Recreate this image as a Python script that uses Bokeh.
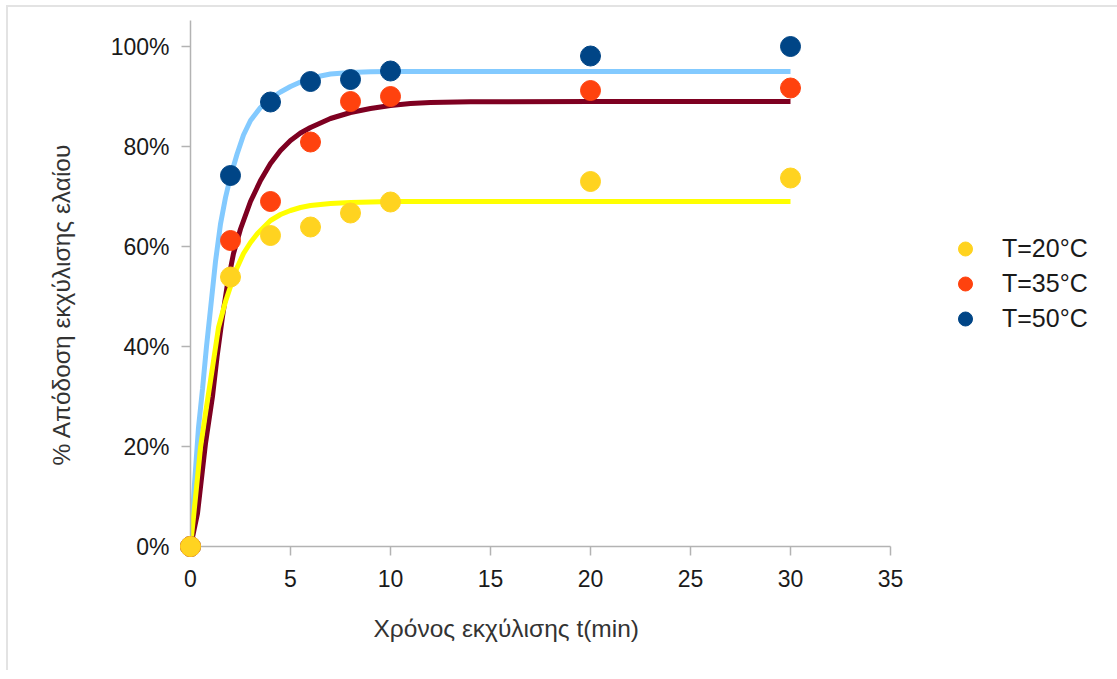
from bokeh.plotting import figure
from bokeh.models import Range1d, FixedTicker, PrintfTickFormatter, Legend, LegendItem, Title
from bokeh.embed import file_html
from bokeh.resources import INLINE

# ---------------- data ----------------
t_points = [0, 2, 4, 6, 8, 10, 20, 30]
y_20 = [0, 53.9, 62.2, 63.9, 66.7, 68.9, 73.0, 73.7]
y_35 = [0, 61.2, 69.0, 80.9, 89.0, 90.0, 91.2, 91.7]
y_50 = [0, 74.2, 88.9, 93.0, 93.4, 95.1, 98.1, 100.0]

# fitted curves
fit_t_20 = [0, 0.25, 0.5, 0.75, 1.1, 1.4, 1.75, 2, 2.3, 2.65, 3, 3.35, 3.7, 4, 4.5, 5, 5.5, 6, 7, 8, 10, 20, 30]
fit_20 = [0, 9.8, 19.8, 26.6, 35.8, 43.8, 49.0, 52.0, 55.5, 58.6, 60.8, 62.6, 64.0, 65.2, 66.4, 67.2, 67.8, 68.2, 68.6, 68.8, 69.0, 69.0, 69.0]

fit_t_35 = [0, 0.35, 0.75, 1.1, 1.33, 1.6, 1.85, 2.15, 2.5, 3, 3.5, 4, 4.5, 5, 5.5, 6, 7, 8, 9, 10, 11, 12, 14, 20, 30]
fit_35 = [0, 6.6, 20.6, 30.0, 38.0, 46.0, 52.5, 58.6, 63.5, 69.0, 73.2, 76.6, 79.2, 81.2, 82.7, 83.8, 85.6, 86.8, 87.6, 88.2, 88.6, 88.8, 88.95, 89.0, 89.0]

fit_t_50 = [0, 0.2, 0.4, 0.6, 0.8, 1, 1.25, 1.5, 1.75, 2, 2.33, 2.65, 3, 3.5, 4, 4.5, 5, 5.5, 6, 6.5, 7, 8, 9, 10, 20, 30]
fit_50 = [0, 12.5, 23.8, 31.5, 40.0, 47.5, 57.0, 64.5, 69.8, 74.0, 78.5, 82.3, 85.2, 87.8, 89.6, 90.9, 92.0, 92.9, 93.6, 94.1, 94.5, 94.8, 94.95, 95.0, 95.0, 95.0]

labels = ["T=20°C", "T=35°C", "T=50°C"]
x_ticks = [0, 5, 10, 15, 20, 25, 30, 35]
y_ticks = [0, 20, 40, 60, 80, 100]
x_title = "Χρόνος εκχύλισης t(min)"
y_title = "% Απόδοση εκχύλισης ελαίου"

marker_colors = ["#FFD320", "#FF420E", "#004586"]
line_colors = ["#FFFF00", "#7E0021", "#83CAFF"]

FONT = "Liberation Sans"

p = figure(frame_width=700, frame_height=526,
           x_range=Range1d(0, 35), y_range=Range1d(0, 105.2),
           output_backend="svg", toolbar_location=None,
           min_border_left=182, min_border_right=215,
           min_border_top=13, min_border_bottom=124)
p.styles = {"border-top": "2px solid #e3e3e3", "border-left": "2px solid #e3e3e3",
            "margin-left": "6px", "margin-top": "5px"}
p.grid.visible = False
p.outline_line_color = None
p.background_fill_color = "white"
p.border_fill_color = "white"

# lines (blue behind, yellow on top)
p.line(fit_t_50, fit_50, line_color=line_colors[2], line_width=5)
p.line(fit_t_35, fit_35, line_color=line_colors[1], line_width=5)
p.line(fit_t_20, fit_20, line_color=line_colors[0], line_width=5)

r50 = p.scatter(t_points, y_50, size=20, fill_color=marker_colors[2], line_color=marker_colors[2], level="overlay")
r35 = p.scatter(t_points, y_35, size=20, fill_color=marker_colors[1], line_color=marker_colors[1], level="overlay")
r20 = p.scatter(t_points, y_20, size=20, fill_color=marker_colors[0], line_color=marker_colors[0], level="overlay")

# axes
for ax in (p.xaxis[0], p.yaxis[0]):
    ax.axis_line_color = "#b3b3b3"
    ax.axis_line_width = 1.5
    ax.major_tick_line_color = "#b3b3b3"
    ax.major_tick_line_width = 1.5
    ax.major_tick_out = 9
    ax.major_tick_in = 0
    ax.minor_tick_line_color = None
    ax.major_label_text_font = FONT
    ax.major_label_text_font_size = "23px"
    ax.major_label_text_color = "#1a1a1a"

p.xaxis.ticker = FixedTicker(ticks=x_ticks)
p.yaxis.ticker = FixedTicker(ticks=y_ticks)
p.yaxis.formatter = PrintfTickFormatter(format="%d%%")
p.xaxis.major_label_standoff = 14
p.yaxis.major_label_standoff = 12

xt = Title(text=x_title, align="left", offset=183, standoff=47,
           text_font=FONT, text_font_size="24.5px", text_font_style="normal",
           text_color="#333333")
p.add_layout(xt, "below")

yt = Title(text=y_title, align="left", offset=81, standoff=66,
           text_font=FONT, text_font_size="24.5px", text_font_style="normal",
           text_color="#333333")
p.add_layout(yt, "left")

legend = Legend(items=[LegendItem(label=labels[0], renderers=[r20]),
                       LegendItem(label=labels[1], renderers=[r35]),
                       LegendItem(label=labels[2], renderers=[r50])],
                location=(53, 210), padding=0, margin=0, spacing=0,
                glyph_width=44, glyph_height=35, label_standoff=15,
                label_text_font=FONT, label_text_font_size="25px",
                label_text_color="#1a1a1a",
                border_line_color=None, background_fill_alpha=0)
p.add_layout(legend, "right")

open("out.html", "w").write(file_html(p, INLINE))
